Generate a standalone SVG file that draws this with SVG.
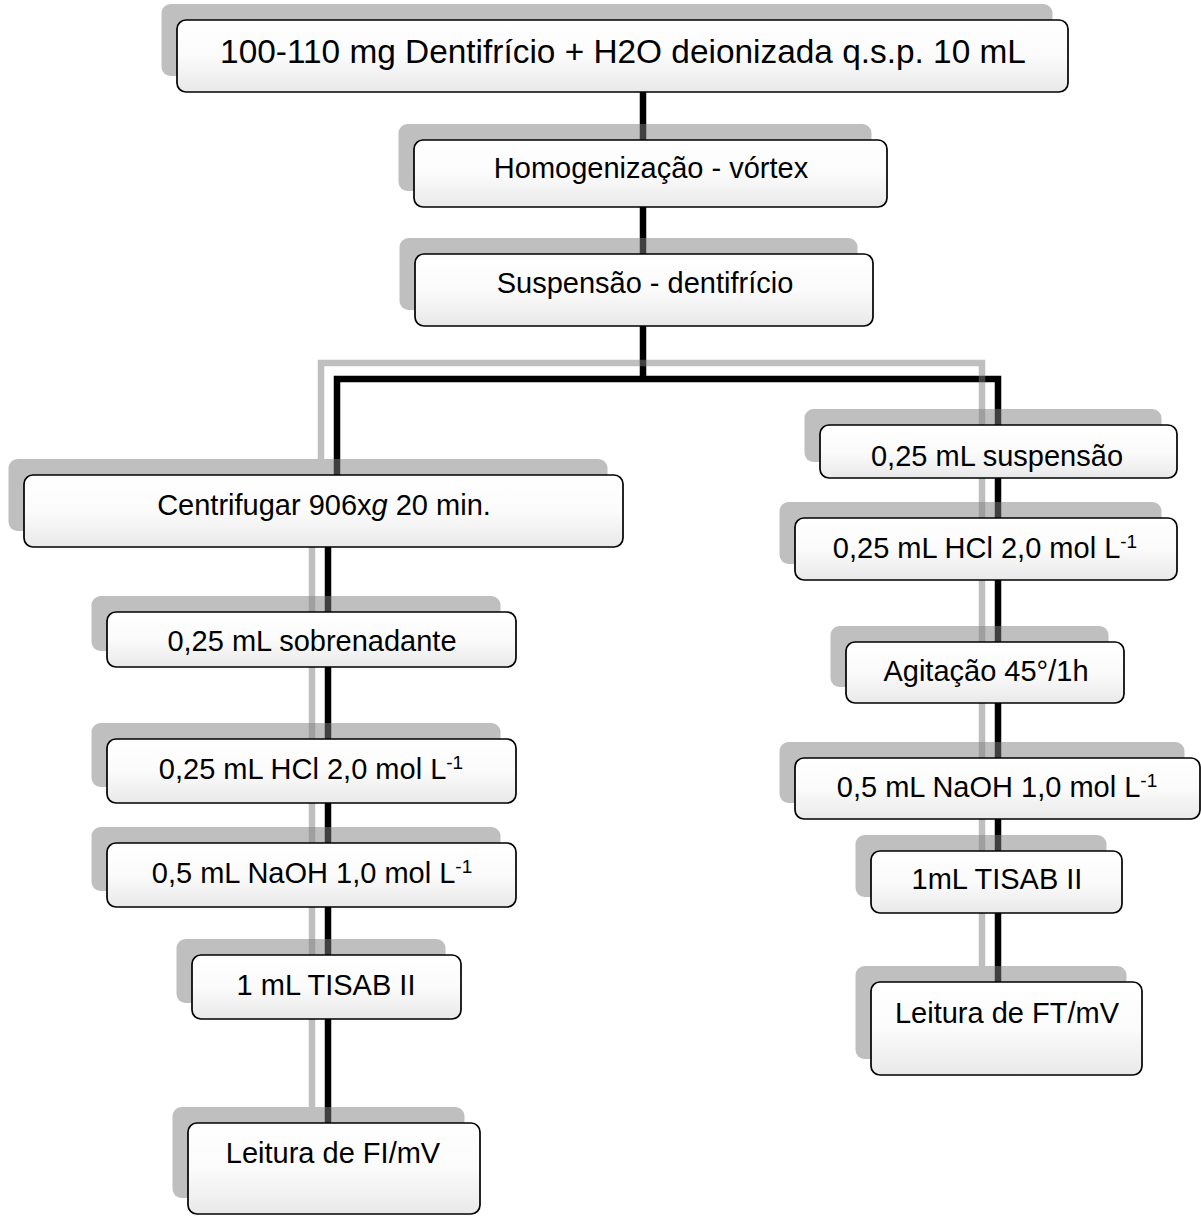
<svg xmlns="http://www.w3.org/2000/svg" width="1201" height="1216" viewBox="0 0 1201 1216">
<defs>
<linearGradient id="g" x1="0" y1="0" x2="0" y2="1">
<stop offset="0" stop-color="#ffffff"/>
<stop offset="0.5" stop-color="#fbfbfb"/>
<stop offset="1" stop-color="#e9e9e9"/>
</linearGradient>
<style>
.sh{fill:#808080;fill-opacity:0.5}
.bx{fill:url(#g);stroke:#000;stroke-width:1.7}
.t{font-family:"Liberation Sans",Arial,sans-serif;font-size:29px;text-anchor:middle;fill:#000}
.sup{font-size:19px}
.c{fill:none;stroke:#000;stroke-width:6.5;stroke-linejoin:miter}
.cs{fill:none;stroke:#808080;stroke-opacity:0.5;stroke-width:6.5;stroke-linejoin:miter}
</style>
</defs>
<rect width="1201" height="1216" fill="#fff"/>
<g id="connectors">
<path class="c" d="M643,92 V379"/>
<path class="c" d="M337,475 V379 H998 V982"/>
<path class="c" d="M328,547 V1123"/>
<path class="cs" d="M321,459 V363 H982 V966"/>
<path class="cs" d="M312,531 V1107"/>
</g>
<g id="n1">
<rect class="sh" x="161.5" y="4" width="891" height="72" rx="9"/>
<rect class="bx" x="177" y="20" width="891" height="72" rx="9"/>
<text class="t" x="623" y="63" style="font-size:33.4px">100-110 mg Dentifrício + H2O deionizada q.s.p. 10 mL</text>
</g>
<g id="n2">
<rect class="sh" x="398.5" y="124" width="473" height="67" rx="9"/>
<rect class="bx" x="414" y="140" width="473" height="67" rx="9"/>
<text class="t" x="651" y="178">Homogenização - vórtex</text>
</g>
<g id="n3">
<rect class="sh" x="399.5" y="238" width="458" height="72" rx="9"/>
<rect class="bx" x="415" y="254" width="458" height="72" rx="9"/>
<text class="t" x="645" y="293">Suspensão - dentifrício</text>
</g>
<g id="n4">
<rect class="sh" x="8.5" y="459" width="599" height="72" rx="9"/>
<rect class="bx" x="24" y="475" width="599" height="72" rx="9"/>
<text class="t" x="324" y="515">Centrifugar 906x<tspan font-style="italic">g</tspan> 20 min.</text>
</g>
<g id="n5">
<rect class="sh" x="91.5" y="596" width="409" height="55" rx="9"/>
<rect class="bx" x="107" y="612" width="409" height="55" rx="9"/>
<text class="t" x="312" y="651">0,25 mL sobrenadante</text>
</g>
<g id="n6">
<rect class="sh" x="91.5" y="723" width="409" height="64" rx="9"/>
<rect class="bx" x="107" y="739" width="409" height="64" rx="9"/>
<text class="t" x="311" y="779">0,25 mL HCl 2,0 mol L<tspan class="sup" dy="-10">-1</tspan></text>
</g>
<g id="n7">
<rect class="sh" x="91.5" y="827" width="409" height="64" rx="9"/>
<rect class="bx" x="107" y="843" width="409" height="64" rx="9"/>
<text class="t" x="312" y="883">0,5 mL NaOH 1,0 mol L<tspan class="sup" dy="-10">-1</tspan></text>
</g>
<g id="n8">
<rect class="sh" x="176.5" y="939" width="269" height="64" rx="9"/>
<rect class="bx" x="192" y="955" width="269" height="64" rx="9"/>
<text class="t" x="326" y="995">1 mL TISAB II</text>
</g>
<g id="n9">
<rect class="sh" x="172.5" y="1107" width="292" height="91" rx="9"/>
<rect class="bx" x="188" y="1123" width="292" height="91" rx="9"/>
<text class="t" x="333" y="1163">Leitura de FI/mV</text>
</g>
<g id="n10">
<rect class="sh" x="804.5" y="409" width="357" height="53" rx="9"/>
<rect class="bx" x="820" y="425" width="357" height="53" rx="9"/>
<text class="t" x="997" y="466">0,25 mL suspensão</text>
</g>
<g id="n11">
<rect class="sh" x="779.5" y="502" width="382" height="62" rx="9"/>
<rect class="bx" x="795" y="518" width="382" height="62" rx="9"/>
<text class="t" x="985" y="558">0,25 mL HCl 2,0 mol L<tspan class="sup" dy="-10">-1</tspan></text>
</g>
<g id="n12">
<rect class="sh" x="830.5" y="626" width="278" height="61" rx="9"/>
<rect class="bx" x="846" y="642" width="278" height="61" rx="9"/>
<text class="t" x="986" y="681">Agitação 45°/1h</text>
</g>
<g id="n13">
<rect class="sh" x="779.5" y="742" width="405" height="61" rx="9"/>
<rect class="bx" x="795" y="758" width="405" height="61" rx="9"/>
<text class="t" x="997" y="797">0,5 mL NaOH 1,0 mol L<tspan class="sup" dy="-10">-1</tspan></text>
</g>
<g id="n14">
<rect class="sh" x="855.5" y="835" width="251" height="62" rx="9"/>
<rect class="bx" x="871" y="851" width="251" height="62" rx="9"/>
<text class="t" x="997" y="889">1mL TISAB II</text>
</g>
<g id="n15">
<rect class="sh" x="855.5" y="966" width="271" height="93" rx="9"/>
<rect class="bx" x="871" y="982" width="271" height="93" rx="9"/>
<text class="t" x="1007" y="1023">Leitura de FT/mV</text>
</g>
</svg>
